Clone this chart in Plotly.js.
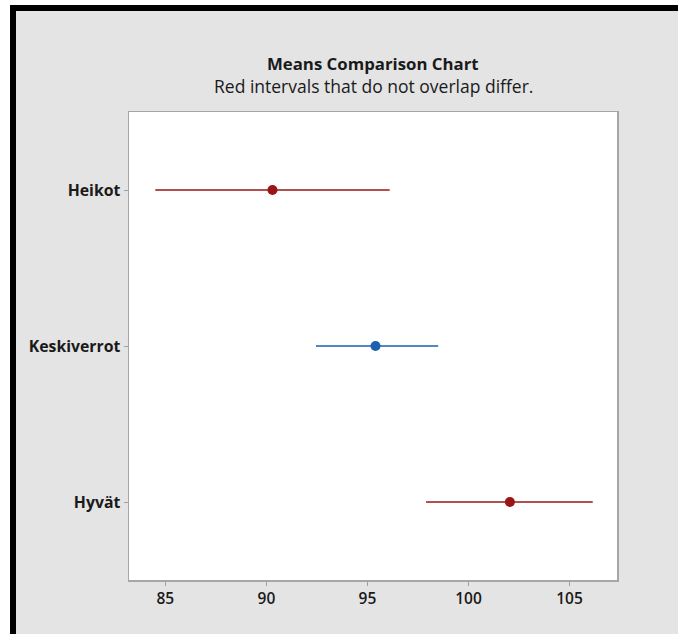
<!DOCTYPE html>
<html>
<head>
<meta charset="utf-8">
<script src="https://cdn.plot.ly/plotly-3.0.1.min.js"></script>
<style>
  html, body { margin: 0; padding: 0; background: #ffffff; width: 678px; height: 634px; overflow: hidden; }
  #frame { position: absolute; left: 10px; top: 5px; width: 668px; height: 629px;
           border-left: 6px solid #000; border-top: 6px solid #000; box-sizing: border-box; background: #e4e4e4; }
  #chart { position: absolute; left: 0; top: 0; width: 662px; height: 623px; }
</style>
</head>
<body>
<div id="frame"><div id="chart"></div></div>
<script>
// Data
const categories = ["Heikot", "Keskiverrot", "Hyvät"];
const means      = [90.3, 95.4, 102.05];
const lowerCI    = [84.5, 92.45, 97.9];
const upperCI    = [96.1, 98.5, 106.15];
const differs    = [true, false, true];   // red = differs, blue = not

const xTicks = [85, 90, 95, 100, 105];

const RED = "#9a1515";
const BLUE = "#1b5fae";

function buildTrace(flag, color) {
  const idx = categories.map((c, i) => i).filter(i => differs[i] === flag);
  return {
    type: "scatter",
    mode: "markers",
    x: idx.map(i => means[i]),
    y: idx.map(i => categories[i]),
    marker: { color: color, size: 10 },
    error_x: {
      type: "data",
      symmetric: false,
      array: idx.map(i => upperCI[i] - means[i]),
      arrayminus: idx.map(i => means[i] - lowerCI[i]),
      color: color,
      thickness: 1.6,
      width: 0
    },
    hoverinfo: "x+y",
    showlegend: false
  };
}

const data = [buildTrace(true, RED), buildTrace(false, BLUE)];

const FONT = "'Open Sans', 'Noto Sans', sans-serif";

const layout = {
  width: 662,
  height: 623,
  paper_bgcolor: "#e4e4e4",
  plot_bgcolor: "#ffffff",
  margin: { l: 113, r: 61, t: 101, b: 54 },
  font: { family: FONT, color: "#1a1a1a" },
  showlegend: false,
  xaxis: {
    range: [83.2, 107.35],
    tickvals: xTicks,
    ticktext: xTicks.map(String),
    ticks: "outside",
    ticklen: 4,
    tickcolor: "#a0a0a0",
    tickfont: { size: 15.5, color: "#1a1a1a", family: FONT, weight: 600 },
    showgrid: false,
    zeroline: false,
    showline: true,
    mirror: true,
    linecolor: "#a6a6a6",
    linewidth: 1.5
  },
  yaxis: {
    type: "category",
    categoryorder: "array",
    categoryarray: categories,
    autorange: false,
    range: [2.5, -0.5],
    ticks: "outside",
    ticklen: 4,
    tickcolor: "#a0a0a0",
    tickfont: { size: 15.8, color: "#1a1a1a", family: FONT, weight: "bold" },
    showgrid: false,
    zeroline: false,
    showline: true,
    mirror: true,
    linecolor: "#a6a6a6",
    linewidth: 1.5
  },
  annotations: [
    {
      text: "<b>Means Comparison Chart</b>",
      xref: "paper", yref: "paper", x: 0.5, y: 1.1047,
      xanchor: "center", yanchor: "middle", showarrow: false,
      font: { size: 16.8, color: "#1a1a1a", family: FONT }
    },
    {
      text: "Red intervals that do not overlap differ.",
      xref: "paper", yref: "paper", x: 0.5, y: 1.0556,
      xanchor: "center", yanchor: "middle", showarrow: false,
      font: { size: 17.5, color: "#1a1a1a", family: FONT }
    }
  ]
};

Plotly.newPlot("chart", data, layout, { displayModeBar: false, staticPlot: true });
</script>
</body>
</html>
